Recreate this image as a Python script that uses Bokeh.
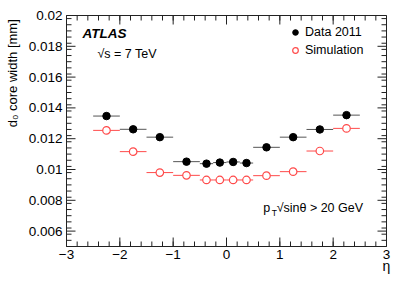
import numpy as np
from bokeh.plotting import figure
from bokeh.models import (Range1d, FixedTicker, LinearAxis, Label, PrintfTickFormatter,
                          CustomJSTickFormatter, ColumnDataSource)
from bokeh.embed import file_html
from bokeh.resources import INLINE

# bin edges in eta
eta_lo = [-2.5, -2.0, -1.5, -1.0, -0.5, -0.25, 0.0, 0.25, 0.5, 1.0, 1.5, 2.0]
eta_hi = [-2.0, -1.5, -1.0, -0.5, -0.25, 0.0, 0.25, 0.5, 1.0, 1.5, 2.0, 2.5]
# d0 core width [mm]
data_2011 = [0.01347, 0.01261, 0.01210, 0.01051, 0.01038, 0.01045, 0.01049, 0.01042,
             0.01144, 0.01210, 0.01260, 0.01353]
simulation = [0.01254, 0.01116, 0.00980, 0.00962, 0.00932, 0.00932, 0.00932, 0.00932,
              0.00960, 0.00986, 0.01120, 0.01267]

y_ticks = [0.006, 0.008, 0.01, 0.012, 0.014, 0.016, 0.018, 0.02]
x_ticks = [-3, -2, -1, 0, 1, 2, 3]
x_minor = [round(-3 + 0.2 * i, 2) for i in range(31)]
y_minor = [round(0.005 + 0.0004 * i, 5) for i in range(38)]

FONT = "Liberation Sans"
RED = "#ff4a4a"
X0, X1, Y0, Y1 = -3, 3, 0.005, 0.02

eta_c = [(a + b) / 2 for a, b in zip(eta_lo, eta_hi)]
src = ColumnDataSource(dict(lo=eta_lo, hi=eta_hi, x=eta_c, data=data_2011, sim=simulation))

p = figure(width=407, height=293, output_backend="svg", toolbar_location=None,
           x_range=Range1d(X0, X1), y_range=Range1d(Y0, Y1),
           min_border_left=66, min_border_right=21, min_border_top=15, min_border_bottom=47)
p.grid.visible = False
p.outline_line_color = "#222222"
p.background_fill_color = "white"
p.border_fill_color = "white"

# error bars
p.segment(x0="lo", x1="hi", y0="sim", y1="sim", source=src, line_color=RED, line_width=1)
p.segment(x0="lo", x1="hi", y0="data", y1="data", source=src, line_color="#555555", line_width=1)
r_sim = p.scatter(x="x", y="sim", source=src, marker="circle", size=7.5, line_color=RED,
                  fill_color="white", line_width=1.2, legend_label="Simulation")
r_data = p.scatter(x="x", y="data", source=src, marker="circle", size=7.5, line_color="black",
                   fill_color="black", legend_label="Data 2011")

# inward ticks on all four sides (ROOT style)
TC = "#222222"
for ticks, ln in ((x_ticks, 9), (x_minor, 5)):
    p.ray(x=ticks, y=[Y0] * len(ticks), length=ln, length_units="screen", angle=np.pi / 2,
          line_color=TC, line_width=1)
    p.ray(x=ticks, y=[Y1] * len(ticks), length=ln, length_units="screen", angle=-np.pi / 2,
          line_color=TC, line_width=1)
for ticks, ln in ((y_ticks, 9), (y_minor, 5)):
    p.ray(x=[X0] * len(ticks), y=ticks, length=ln, length_units="screen", angle=0,
          line_color=TC, line_width=1)
    p.ray(x=[X1] * len(ticks), y=ticks, length=ln, length_units="screen", angle=np.pi,
          line_color=TC, line_width=1)

xt = FixedTicker(ticks=x_ticks, minor_ticks=[])
yt = FixedTicker(ticks=y_ticks, minor_ticks=[])

def style(ax):
    ax.major_tick_in = 0
    ax.major_tick_out = 0
    ax.minor_tick_in = 0
    ax.minor_tick_out = 0
    ax.axis_line_color = TC
    ax.major_label_text_font = FONT
    ax.major_label_text_font_size = "13.5px"
    ax.major_label_text_color = "black"

p.xaxis.ticker = xt
p.yaxis.ticker = yt
style(p.xaxis[0])
style(p.yaxis[0])
p.yaxis.formatter = PrintfTickFormatter(format="%g")
p.xaxis.formatter = CustomJSTickFormatter(code="return tick < 0 ? '\\u2212' + (-tick) : '' + tick;")
p.yaxis.major_label_standoff = 4
p.xaxis.major_label_standoff = 3

# axis titles, aligned towards the axis ends (ROOT style)
PAD = "\u00a0" * 32
p.yaxis.axis_label = PAD + "d₀ core width [mm]"
p.yaxis.axis_label_standoff = 6
p.yaxis.axis_label_text_font = FONT
p.yaxis.axis_label_text_font_size = "13px"
p.yaxis.axis_label_text_font_style = "normal"
p.yaxis.axis_label_text_color = "black"
p.xaxis.axis_label = "η"
p.xaxis.axis_label_align = "end"
p.xaxis.axis_label_standoff = -4
p.xaxis.axis_label_text_font = FONT
p.xaxis.axis_label_text_font_size = "14px"
p.xaxis.axis_label_text_font_style = "normal"
p.xaxis.axis_label_text_color = "black"

# annotations
p.add_layout(Label(x=-2.70, y=0.01885, text="ATLAS", text_font=FONT, text_font_style="bold italic",
                   text_font_size="13.5px", text_baseline="middle", text_color="black"))
p.add_layout(Label(x=-2.42, y=0.01747, text="√s = 7 TeV", text_font=FONT, text_font_size="12.5px",
                   text_baseline="middle", text_color="black"))
p.add_layout(Label(x=0.69, y=0.00748, text="p", text_font=FONT, text_font_size="12.5px",
                   text_baseline="middle", text_color="black"))
p.add_layout(Label(x=0.85, y=0.00718, text="T", text_font=FONT, text_font_size="8.5px",
                   text_baseline="middle", text_color="black"))
p.add_layout(Label(x=0.94, y=0.00748, text="√sinθ > 20 GeV", text_font=FONT, text_font_size="12.5px",
                   text_baseline="middle", text_color="black"))

leg = p.legend[0]
leg.items = [leg.items[1], leg.items[0]]
leg.location = (222, 187)
leg.padding = 0
leg.margin = 0
leg.spacing = 0
leg.glyph_width = 14
leg.glyph_height = 18
leg.label_height = 18
leg.label_standoff = 3
leg.border_line_color = None
leg.background_fill_alpha = 0
leg.label_text_font = FONT
leg.label_text_font_size = "12.5px"
leg.label_text_color = "black"

open("out.html", "w").write(file_html(p, INLINE))
